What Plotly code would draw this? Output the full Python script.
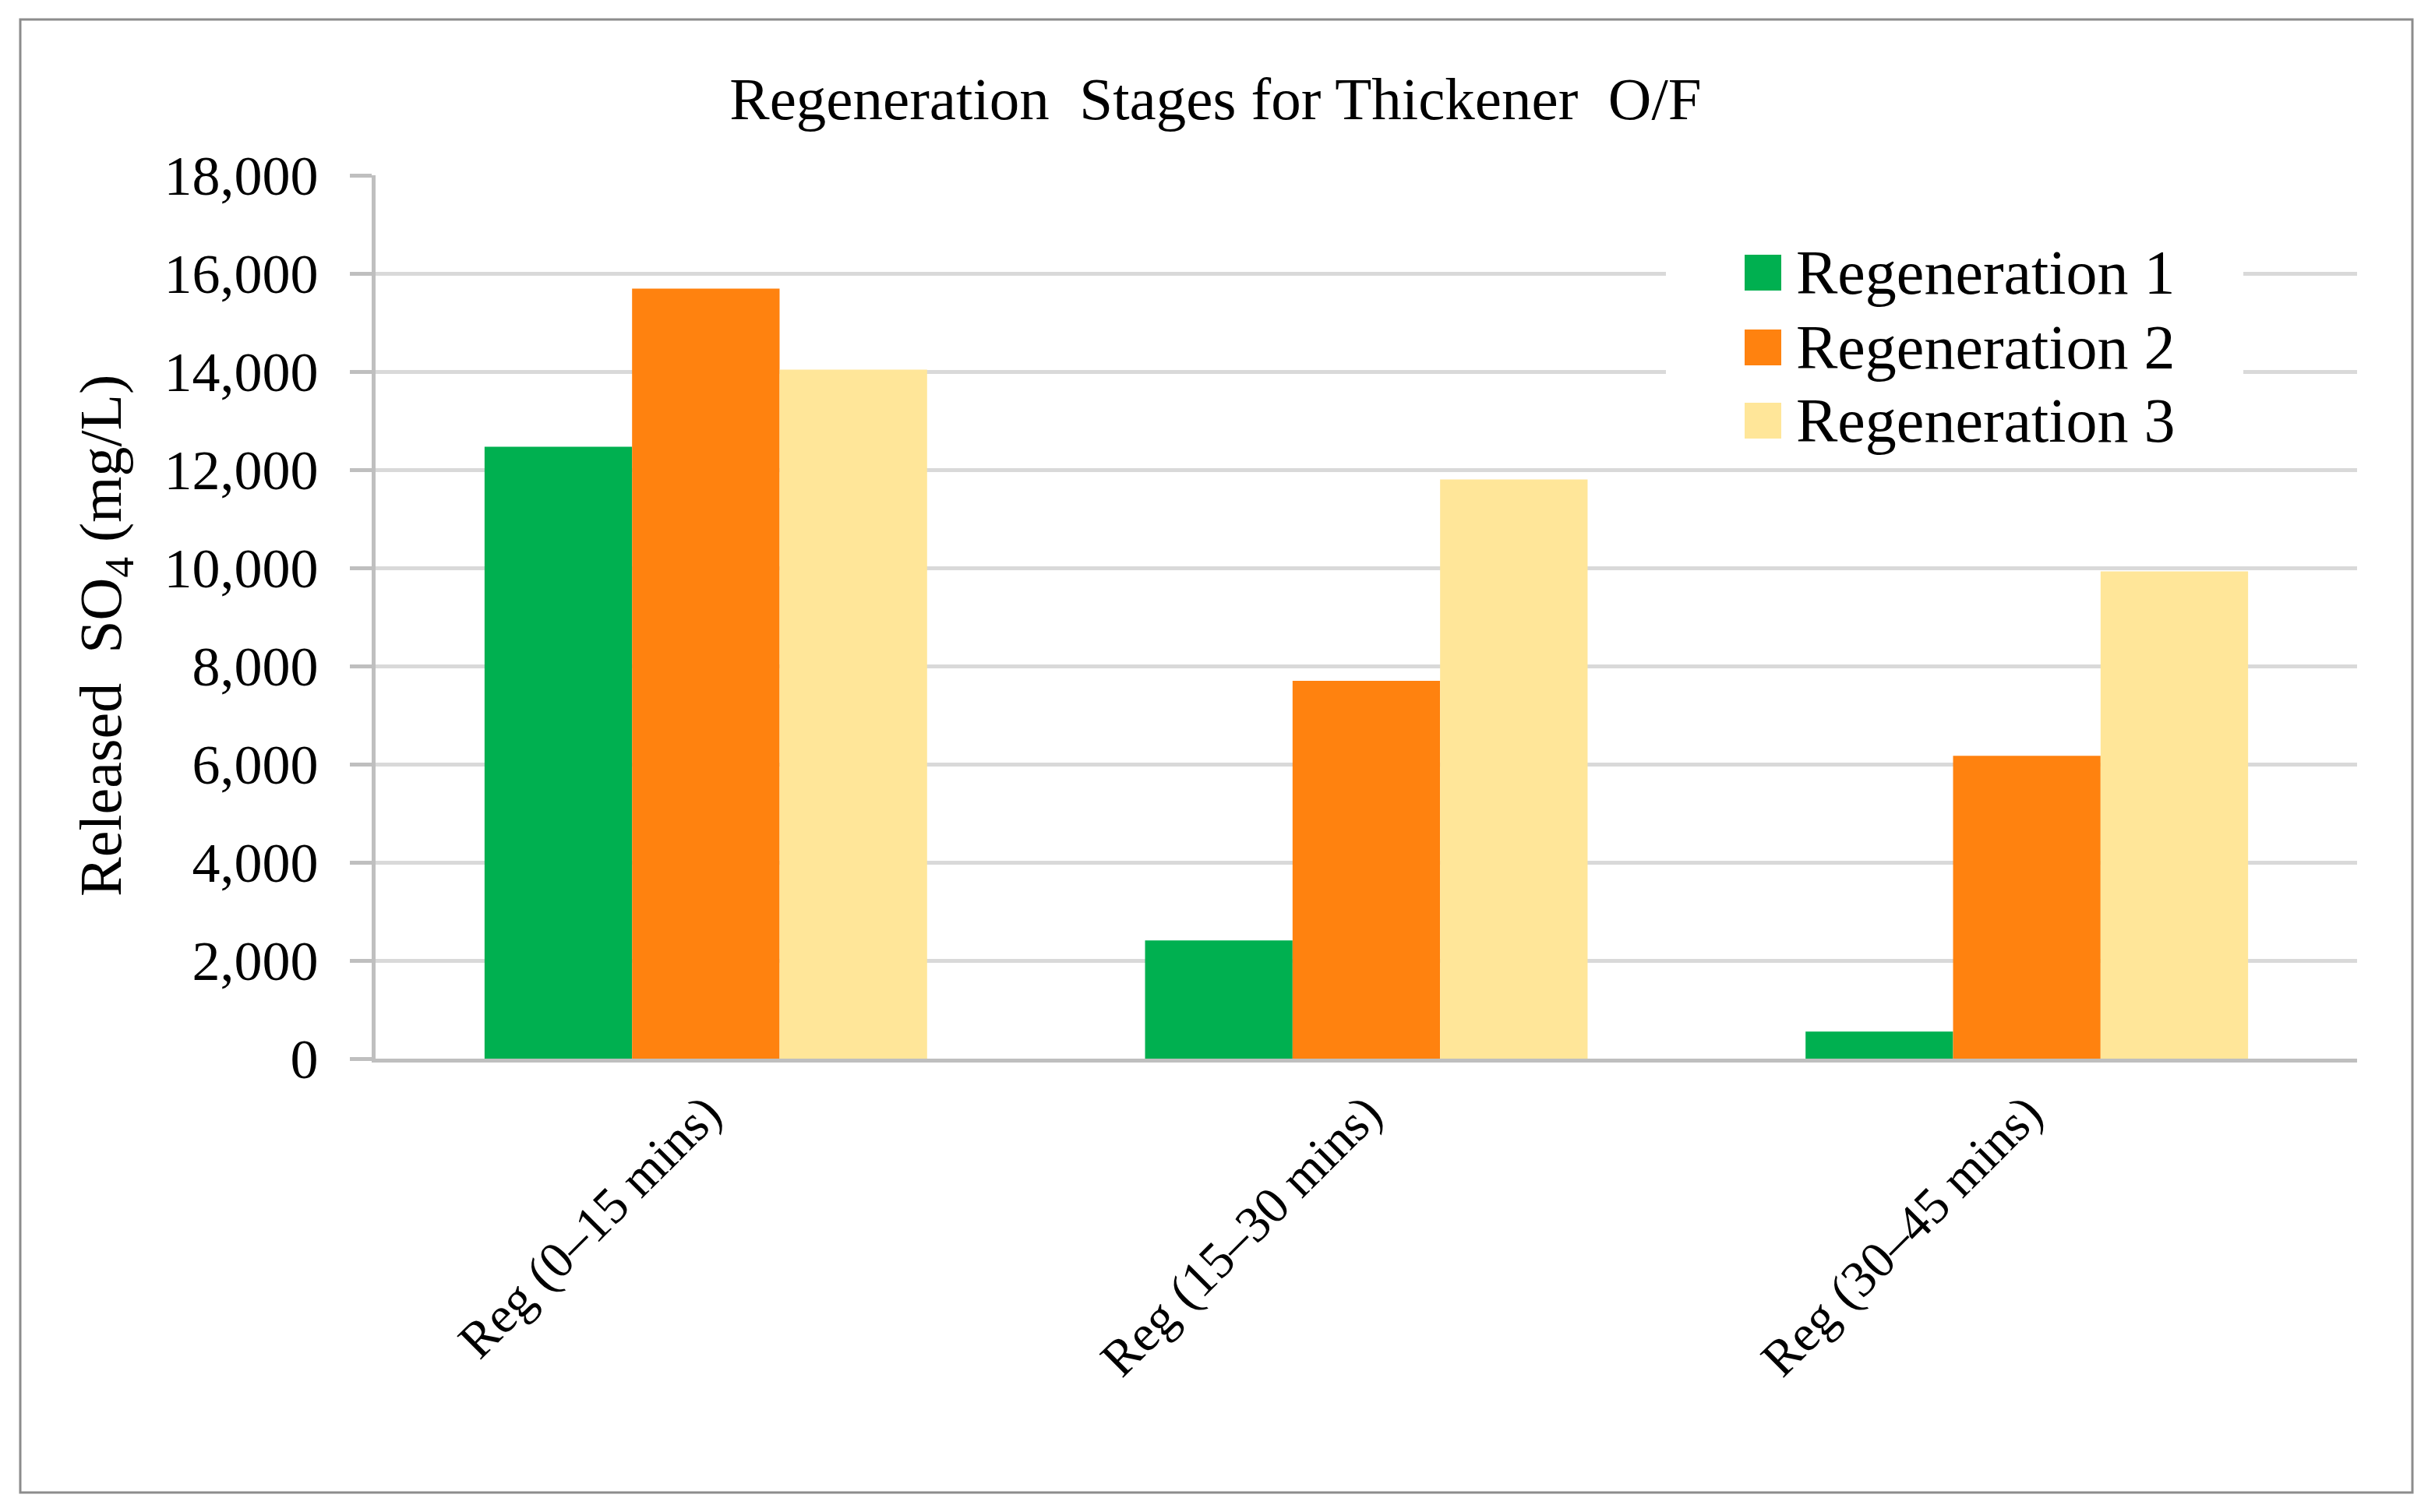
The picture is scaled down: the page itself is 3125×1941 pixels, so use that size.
import plotly.graph_objects as go

categories = ["Reg (0–15 mins)", "Reg (15–30 mins)", "Reg (30–45 mins)"]
series_names = ["Regeneration 1", "Regeneration 2", "Regeneration 3"]
regen1 = [12470, 2410, 550]
regen2 = [15690, 7700, 6170]
regen3 = [14040, 11800, 9930]
colors = ["#00B050", "#FF820F", "#FFE699"]
y_ticks = [0, 2000, 4000, 6000, 8000, 10000, 12000, 14000, 16000, 18000]

W, H = 3125, 1941
L, R, T, B = 482, 3025, 225, 1359  # plot area in pixels
FONT = "Liberation Serif"


def px(x):
    return (x - L) / (R - L)


def py(y):
    return (B - y) / (B - T)


fig = go.Figure()
for name, vals, col in zip(series_names, [regen1, regen2, regen3], colors):
    fig.add_trace(go.Bar(x=categories, y=vals, name=name,
                         marker=dict(color=col, line=dict(width=0)),
                         showlegend=False))

shapes = []
annotations = []

# outer frame
shapes.append(dict(type="rect", xref="paper", yref="paper",
                   x0=px(26), x1=px(3096), y0=py(1916), y1=py(25),
                   line=dict(color="#8C8C8C", width=3), fillcolor="rgba(0,0,0,0)",
                   layer="above"))

# legend box (white background covering gridlines)
shapes.append(dict(type="rect", xref="paper", yref="paper",
                   x0=px(2138), x1=px(2879), y0=py(590), y1=py(300),
                   line=dict(width=0), fillcolor="white", layer="above"))
row_y = [350, 446, 540]
for name, col, yy in zip(series_names, colors, row_y):
    shapes.append(dict(type="rect", xref="paper", yref="paper",
                       x0=px(2239), x1=px(2286), y0=py(yy + 23), y1=py(yy - 23),
                       line=dict(width=0), fillcolor=col, layer="above"))
    annotations.append(dict(text=name, xref="paper", yref="paper",
                            x=px(2303), y=py(yy), xanchor="left", yanchor="middle",
                            showarrow=False, font=dict(family=FONT, size=80, color="black")))

# y-axis title
annotations.append(dict(text="Released  SO<sub>4</sub> (mg/L)", xref="paper", yref="paper",
                        x=px(135), y=py(816), xanchor="center", yanchor="middle",
                        textangle=-90, showarrow=False,
                        font=dict(family=FONT, size=76, color="black")))

fig.update_layout(
    width=W, height=H,
    margin=dict(l=L, r=W - R, t=T, b=H - B, pad=0),
    paper_bgcolor="white", plot_bgcolor="white",
    barmode="group", bargap=0.33, bargroupgap=0,
    title=dict(text="Regeneration  Stages for Thickener  O/F",
               x=1560 / W, xref="container", xanchor="center",
               y=1 - 126 / H, yref="container", yanchor="middle",
               font=dict(family=FONT, size=77, color="black")),
    font=dict(family=FONT, color="black"),
    shapes=shapes, annotations=annotations,
    showlegend=False,
)

fig.update_xaxes(
    showline=True, linecolor="#BFBFBF", linewidth=5,
    showgrid=False, ticks="", tickangle=-45,
    tickfont=dict(family=FONT, size=66, color="black"),
)
fig.update_yaxes(
    range=[0, 18000], tickvals=y_ticks, tickformat=",d",
    showgrid=True, gridcolor="#D9D9D9", gridwidth=5,
    showline=True, linecolor="#BFBFBF", linewidth=5,
    ticks="outside", ticklen=28, tickwidth=5, tickcolor="#BFBFBF",
    ticklabelstandoff=26,
    zeroline=False,
    tickfont=dict(family=FONT, size=72, color="black"),
)

fig.write_html("out.html", config={"displayModeBar": False},
               post_script="document.body.style.margin='0px';")
